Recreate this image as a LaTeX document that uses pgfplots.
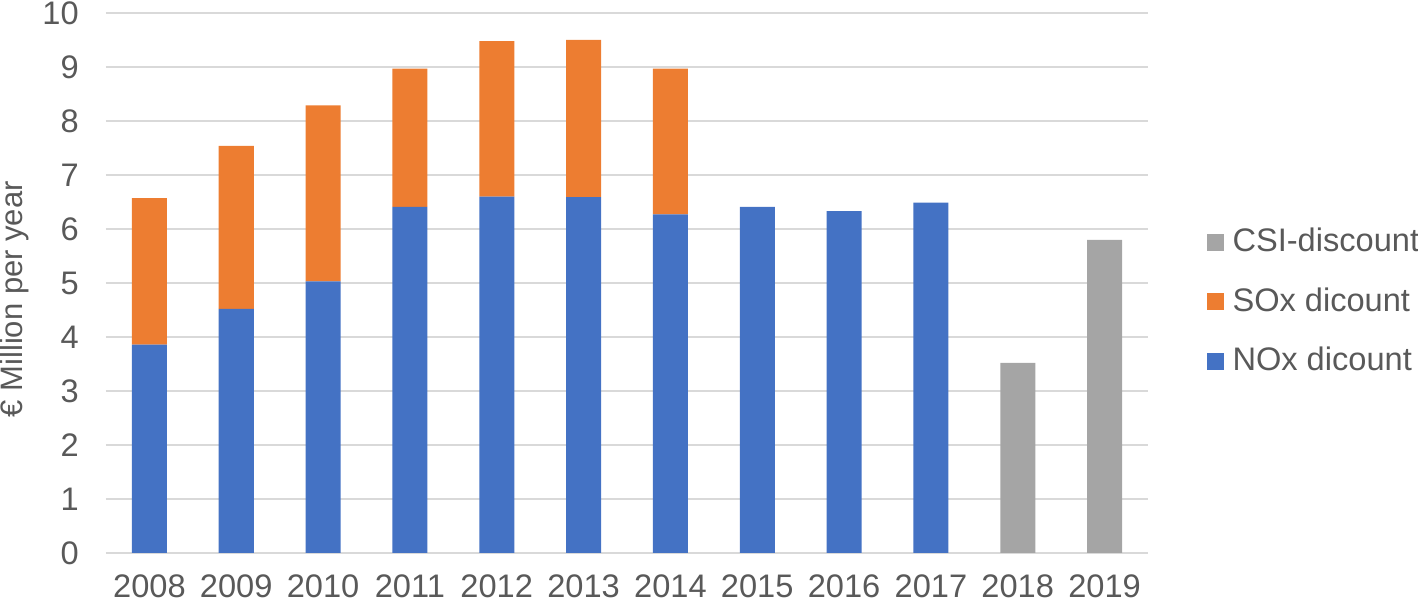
\documentclass[border=0pt]{standalone}
\usepackage{fontspec}
\setmainfont{Liberation Sans}
\usepackage{pgfplots}
\pgfplotsset{compat=1.18}
\definecolor{noxblue}{HTML}{4472C4}
\definecolor{soxorange}{HTML}{ED7D31}
\definecolor{csigray}{HTML}{A5A5A5}
\definecolor{gridgray}{HTML}{D9D9D9}
\definecolor{txtgray}{HTML}{595959}
\begin{document}
\fontsize{16.3pt}{19pt}\selectfont
\begin{tikzpicture}
\path[use as bounding box] (-53pt,-25pt) rectangle (656pt,276.5pt);
\begin{axis}[
  scale only axis,
  width=521pt, height=270pt,
  ybar stacked, bar width=17.5pt,
  xmin=-0.5, xmax=11.5,
  ymin=0, ymax=10,
  xtick={0,...,11},
  xticklabels={2008,2009,2010,2011,2012,2013,2014,2015,2016,2017,2018,2019},
  ytick={0,1,...,10},
  /pgf/number format/assume math mode=true,
  ticklabel style={font=\fontsize{16.3pt}{19pt}\selectfont, text=txtgray},
  yticklabel style={xshift=-8pt},
  xticklabel style={yshift=-5pt},
  major tick length=0pt,
  axis line style={draw=none},
  ymajorgrids=true,
  major grid style={draw=gridgray, line width=1pt},
  ylabel={€ Million per year},
  ylabel style={at={(axis description cs:-0.0875,0.47)}, anchor=center,
                font=\fontsize{15.5pt}{18pt}\selectfont, text=txtgray},
  legend style={at={(axis description cs:1.050,0.465)}, anchor=west,
                draw=none, fill=none, row sep=11.5pt,
                font=\fontsize{16.3pt}{19pt}\selectfont, text=txtgray},
  legend cell align=left,
  reverse legend,
  legend image code/.code={\fill[#1] (0pt,-4.25pt) rectangle (8.5pt,4.25pt);
                           \path (11pt,0pt);},
]
\addplot[fill=noxblue, draw=none] coordinates {
  (0,3.86) (1,4.52) (2,5.03) (3,6.41) (4,6.60) (5,6.59) (6,6.27)
  (7,6.41) (8,6.33) (9,6.49) (10,0) (11,0)};
\addplot[fill=soxorange, draw=none] coordinates {
  (0,2.71) (1,3.02) (2,3.26) (3,2.56) (4,2.88) (5,2.91) (6,2.70)
  (7,0) (8,0) (9,0) (10,0) (11,0)};
\addplot[fill=csigray, draw=none] coordinates {
  (0,0) (1,0) (2,0) (3,0) (4,0) (5,0) (6,0)
  (7,0) (8,0) (9,0) (10,3.52) (11,5.80)};
\legend{NOx dicount, SOx dicount, CSI-discount}
\end{axis}
\end{tikzpicture}
\end{document}
